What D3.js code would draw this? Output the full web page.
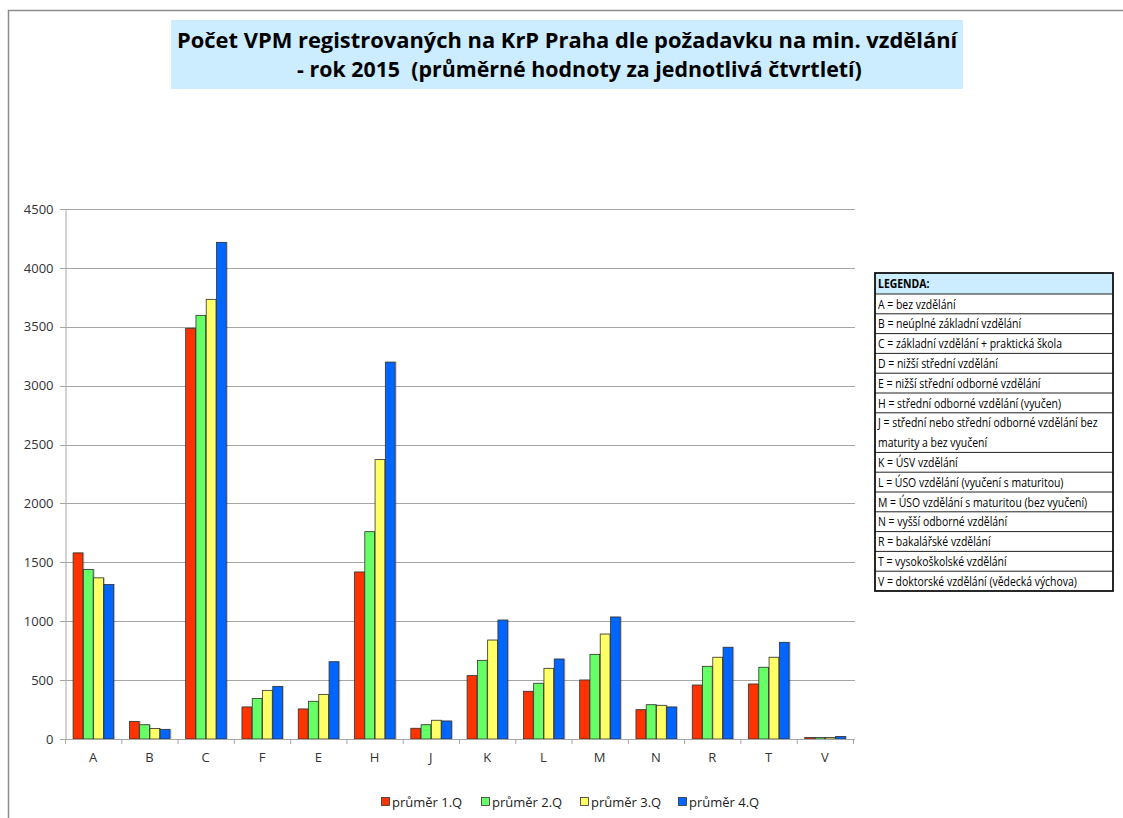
<!DOCTYPE html>
<html><head><meta charset="utf-8">
<script src="https://cdn.jsdelivr.net/npm/d3@7"></script>
<style>
body{margin:0;background:#fff;}
svg{display:block;}
text{white-space:pre;}
</style></head>
<body>
<svg id="c" width="1123" height="818"></svg>
<script>
const categories = ["A","B","C","F","E","H","J","K","L","M","N","R","T","V"];
const q1 = [1580, 148, 3487, 272, 255, 1418, 91, 538, 405, 501, 249, 458, 467, 12];
const q2 = [1440, 121, 3597, 345, 320, 1760, 121, 668, 473, 719, 291, 617, 609, 12];
const q3 = [1368, 89, 3733, 413, 379, 2372, 159, 840, 600, 891, 286, 694, 694, 12];
const q4 = [1312, 82, 4217, 447, 656, 3200, 153, 1010, 679, 1036, 272, 779, 821, 22];
const seriesNames = ["průměr 1.Q","průměr 2.Q","průměr 3.Q","průměr 4.Q"];
const seriesColors = ["#FF3300","#66FF66","#FFFF66","#0066FF"];
const yTicks = [0,500,1000,1500,2000,2500,3000,3500,4000,4500];
const titleLines = ["Počet VPM registrovaných na KrP Praha dle požadavku na min. vzdělání","- rok 2015  (průměrné hodnoty za jednotlivá čtvrtletí)"];
const legendHeader = "LEGENDA:";
const legendRows = [
  ["A = bez vzdělání"],
  ["B = neúplné základní vzdělání"],
  ["C = základní vzdělání + praktická škola"],
  ["D = nižší střední vzdělání"],
  ["E = nižší střední odborné vzdělání"],
  ["H = střední odborné vzdělání (vyučen)"],
  ["J = střední nebo střední odborné vzdělání bez","maturity a bez vyučení"],
  ["K = ÚSV vzdělání"],
  ["L = ÚSO vzdělání (vyučení s maturitou)"],
  ["M = ÚSO vzdělání s maturitou (bez vyučení)"],
  ["N = vyšší odborné vzdělání"],
  ["R = bakalářské vzdělání"],
  ["T = vysokoškolské vzdělání"],
  ["V = doktorské vzdělání (vědecká výchova)"]
];

const series = [q1,q2,q3,q4];
const FONT = "'Open Sans','Liberation Sans',sans-serif";
const svg = d3.select("#c");

// outer frame
svg.append("path").attr("d","M8.5,818 L8.5,10.5 L1123,10.5").attr("fill","none").attr("stroke","#8c8c8c").attr("stroke-width",1.5);

// helper: text compressed horizontally to a target width
function squeezed(parent, left, baseline, str, fs, bold, target, kFixed){
  const g = parent.append("g");
  const t = g.append("text").attr("x",0).attr("y",0).attr("font-family",FONT)
    .attr("font-size",fs).attr("font-weight",bold?"bold":"normal").attr("fill","#000").text(str);
  const w = t.node().getComputedTextLength();
  const k = kFixed != null ? kFixed : target/w;
  g.attr("transform",`translate(${left},${baseline}) scale(${k},1)`);
  return {k, w};
}

// title
svg.append("rect").attr("x",171).attr("y",20).attr("width",792).attr("height",69).attr("fill","#CCECFF");
squeezed(svg, 177, 48, titleLines[0], 21, true, 781);
squeezed(svg, 297, 77, titleLines[1], 21, true, 565);

// scales
const x = d3.scaleBand().domain(categories).range([65,853]).paddingInner(0.27).paddingOuter(0.135);
const xs = d3.scaleBand().domain(d3.range(4)).range([0,x.bandwidth()]);
const y = d3.scaleLinear().domain([0,4500]).range([739,209]);

// grid
svg.append("g").selectAll("line").data(yTicks).join("line")
  .attr("x1",60).attr("x2",855).attr("y1",d=>Math.round(y(d))+0.5).attr("y2",d=>Math.round(y(d))+0.5)
  .attr("stroke","#a6a6a6").attr("stroke-width",1);

// y axis
const yAxis = d3.axisLeft(y).tickValues(yTicks).tickFormat(d3.format("d")).tickSize(0).tickPadding(12);
const gy = svg.append("g").attr("transform","translate(65.5,0)").call(yAxis);
gy.select(".domain").attr("stroke","#a6a6a6");
gy.selectAll("text").attr("font-family",FONT).attr("font-size",13).attr("fill","#333");

// bars
const groups = svg.append("g").selectAll("g").data(categories).join("g")
  .attr("transform",d=>`translate(${x(d)},0)`);
groups.selectAll("rect").data((d,i)=>series.map((s,k)=>({k, v:s[i]}))).join("rect")
  .attr("x",d=>xs(d.k)+0.5).attr("width",xs.bandwidth()-0.5)
  .attr("y",d=>y(d.v)).attr("height",d=>y(0)-y(d.v))
  .attr("fill",d=>seriesColors[d.k]).attr("stroke","#333").attr("stroke-width",0.8)
  .style("filter","drop-shadow(1px 0px 0px rgba(0,0,0,0.25))");

// x axis
const xb = svg.append("g");
xb.append("line").attr("x1",65).attr("x2",855).attr("y1",739.5).attr("y2",739.5).attr("stroke","#a6a6a6");
const step = x.step();
xb.selectAll("line.tk").data(d3.range(categories.length+1)).join("line").attr("class","tk")
  .attr("x1",d=>65.5+d*step).attr("x2",d=>65.5+d*step).attr("y1",739).attr("y2",744).attr("stroke","#a6a6a6");
xb.selectAll("text").data(categories).join("text")
  .attr("x",d=>x(d)+x.bandwidth()/2).attr("y",762).attr("text-anchor","middle")
  .attr("font-family",FONT).attr("font-size",13).attr("fill","#333").text(d=>d);

// bottom legend
const lgX = [381,481,580,678];
const lg = svg.append("g").selectAll("g").data(seriesNames).join("g")
  .attr("transform",(d,i)=>`translate(${lgX[i]},797)`);
lg.append("rect").attr("x",0.5).attr("y",0.5).attr("width",8).attr("height",8)
  .attr("fill",(d,i)=>seriesColors[i]).attr("stroke","#333").attr("stroke-width",0.8);
lg.append("text").attr("x",11).attr("y",9.5).attr("font-family",FONT).attr("font-size",13).attr("fill","#222").text(d=>d);

// legend table
const tx = 875, tw = 238;
const rowH = 19.8;
const tg = svg.append("g");
let yy = 273;
tg.append("rect").attr("x",tx).attr("y",yy).attr("width",tw).attr("height",21).attr("fill","#CCECFF");
const probe = tg.append("text").attr("font-family",FONT).attr("font-size",13).text(legendRows[6][0]);
const kLeg = 220/probe.node().getComputedTextLength();
probe.remove();
squeezed(tg, tx+3, yy+15, legendHeader, 13, true, null, kLeg);
yy += 21;
legendRows.forEach(r=>{
  const h = rowH*r.length;
  tg.append("line").attr("x1",tx).attr("x2",tx+tw).attr("y1",yy).attr("y2",yy).attr("stroke","#222").attr("stroke-width",1);
  r.forEach((ln,j)=>{
    squeezed(tg, tx+3, yy+14.5+j*rowH, ln, 13, false, null, kLeg);
  });
  yy += h;
});
tg.append("rect").attr("x",tx).attr("y",273).attr("width",tw).attr("height",yy-273).attr("fill","none").attr("stroke","#111").attr("stroke-width",1.8);
</script>
</body></html>
